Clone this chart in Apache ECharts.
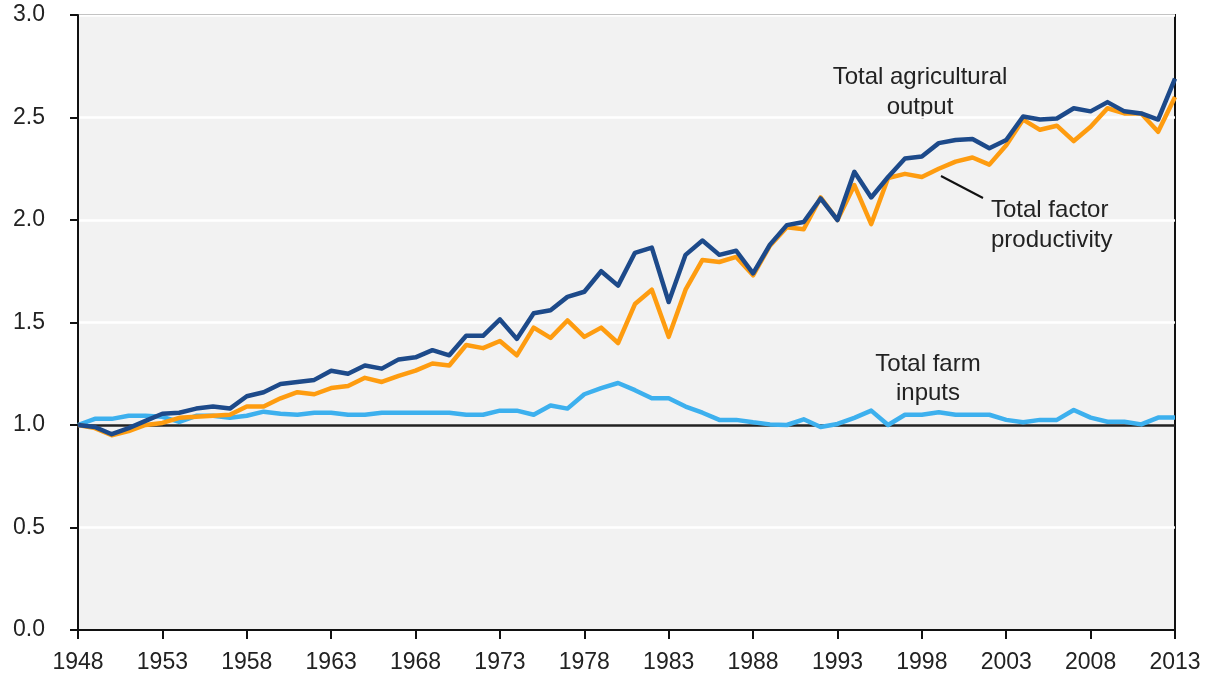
<!DOCTYPE html>
<html>
<head>
<meta charset="utf-8">
<script src="https://cdn.jsdelivr.net/npm/echarts@6/dist/echarts.min.js"></script>
<style>
  html, body { margin: 0; padding: 0; background: #fff; }
  #chart { width: 1209px; height: 677px; }
</style>
</head>
<body>
<div id="chart"></div>
<script>
  // years 1948 - 2013, index 1948 = 1.0
  var years = []
  for (var y = 1948; y <= 2013; y++) years.push(String(y))

  var output = [
    1.00, 0.99, 0.955, 0.985, 1.02, 1.055, 1.06, 1.08, 1.09, 1.08,
    1.14, 1.16, 1.20, 1.21, 1.22, 1.265, 1.25, 1.29, 1.275, 1.32,
    1.33, 1.365, 1.34, 1.435, 1.435, 1.515, 1.42, 1.545, 1.56, 1.625,
    1.65, 1.75, 1.68, 1.84, 1.865, 1.60, 1.83, 1.90, 1.83, 1.85,
    1.74, 1.88, 1.975, 1.99, 2.105, 2.00, 2.235, 2.11, 2.21, 2.30,
    2.31, 2.375, 2.39, 2.395, 2.35, 2.39, 2.505, 2.49, 2.495, 2.545,
    2.53, 2.575, 2.53, 2.52, 2.49, 2.69
  ]
  var tfp = [
    1.00, 0.985, 0.95, 0.97, 1.00, 1.01, 1.035, 1.04, 1.045, 1.05,
    1.09, 1.09, 1.13, 1.16, 1.15, 1.18, 1.19, 1.23, 1.21, 1.24,
    1.265, 1.30, 1.29, 1.39, 1.375, 1.41, 1.34, 1.475, 1.425, 1.51,
    1.43, 1.475, 1.40, 1.59, 1.66, 1.43, 1.66, 1.805, 1.795, 1.82,
    1.73, 1.875, 1.965, 1.955, 2.11, 2.00, 2.17, 1.98, 2.205, 2.225,
    2.21, 2.25, 2.285, 2.305, 2.27, 2.365, 2.49, 2.44, 2.46, 2.385,
    2.455, 2.545, 2.52, 2.52, 2.43, 2.60
  ]
  var inputs = [
    1.00, 1.03, 1.03, 1.045, 1.045, 1.04, 1.015, 1.045, 1.045, 1.035,
    1.045, 1.065, 1.055, 1.05, 1.06, 1.06, 1.05, 1.05, 1.06, 1.06,
    1.06, 1.06, 1.06, 1.05, 1.05, 1.07, 1.07, 1.05, 1.095, 1.08,
    1.15, 1.18, 1.205, 1.17, 1.13, 1.13, 1.09, 1.06, 1.025, 1.025,
    1.013, 1.003, 1.00, 1.028, 0.99, 1.005, 1.035, 1.07, 1.00, 1.05,
    1.05, 1.062, 1.05, 1.05, 1.05, 1.025, 1.013, 1.025, 1.025, 1.073,
    1.036, 1.016, 1.016, 1.003, 1.036, 1.036
  ]

  var font = '"Liberation Sans", Arial, Helvetica, sans-serif'
  var textColor = '#222'

  var chart = echarts.init(document.getElementById('chart'))

  function lineSeries(name, data, color) {
    return {
      name: name,
      type: 'line',
      data: data,
      symbol: 'none',
      silent: true,
      animation: false,
      lineStyle: { color: color, width: 4.5, join: 'round' }
    }
  }

  chart.setOption({
    animation: false,
    backgroundColor: '#fff',
    grid: {
      left: 78,
      right: 34,
      top: 15,
      bottom: 47,
      show: true,
      backgroundColor: '#f2f2f2',
      borderColor: '#111',
      borderWidth: 2
    },
    xAxis: {
      type: 'category',
      data: years,
      boundaryGap: false,
      axisLine: { show: true, lineStyle: { color: '#111', width: 2 } },
      axisTick: { show: true, interval: 4, length: 9, lineStyle: { color: '#111', width: 2 } },
      axisLabel: {
        interval: 4,
        margin: 21,
        color: textColor,
        fontFamily: font,
        fontSize: 23
      },
      splitLine: { show: false }
    },
    yAxis: {
      type: 'value',
      min: 0,
      max: 3,
      interval: 0.5,
      axisLine: { show: true, lineStyle: { color: '#111', width: 2 } },
      axisTick: { show: true, length: 8, lineStyle: { color: '#111', width: 2 } },
      axisLabel: {
        margin: 33,
        color: textColor,
        fontFamily: font,
        fontSize: 23,
        formatter: function (v) { return v.toFixed(1) }
      },
      splitLine: {
        show: true,
        lineStyle: {
          color: ['#fff', '#fff', '#222', '#fff', '#fff', '#fff', '#fff'],
          width: 2.5
        }
      }
    },
    series: [
      lineSeries('Total farm inputs', inputs, '#3db0ee'),
      lineSeries('Total factor productivity', tfp, '#fe9c10'),
      lineSeries('Total agricultural output', output, '#1d4a8a')
    ],
    graphic: [
      {
        type: 'text',
        x: 920,
        y: 92,
        style: {
          text: 'Total agricultural\noutput',
          font: '24px ' + font,
          fill: textColor,
          align: 'center',
          verticalAlign: 'middle',
          lineHeight: 30
        }
      },
      {
        type: 'text',
        x: 991,
        y: 225,
        style: {
          text: 'Total factor\nproductivity',
          font: '24px ' + font,
          fill: textColor,
          align: 'left',
          verticalAlign: 'middle',
          lineHeight: 30
        }
      },
      {
        type: 'line',
        shape: { x1: 941, y1: 176, x2: 983, y2: 198 },
        style: { stroke: '#111', lineWidth: 2 }
      },
      {
        type: 'text',
        x: 928,
        y: 379,
        style: {
          text: 'Total farm\ninputs',
          font: '24px ' + font,
          fill: textColor,
          align: 'center',
          verticalAlign: 'middle',
          lineHeight: 29
        }
      }
    ]
  })
</script>
</body>
</html>
